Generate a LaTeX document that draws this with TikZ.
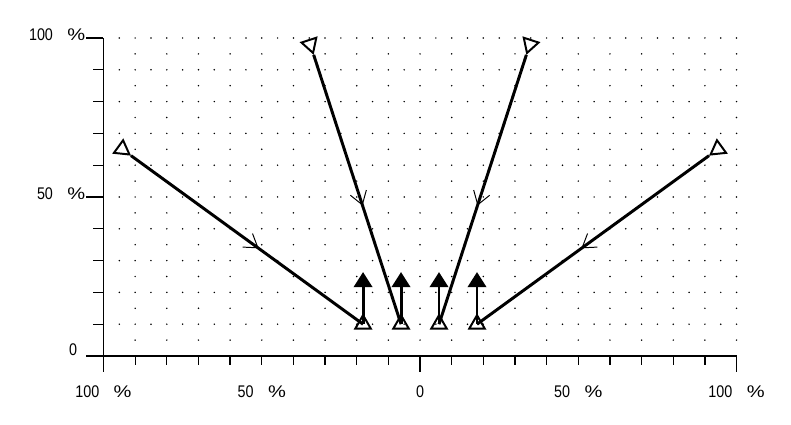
\documentclass[tikz,border=0pt]{standalone}
\usepackage{fontspec}
\setmainfont{Liberation Sans}[FakeStretch=0.85]
\usetikzlibrary{arrows.meta,shapes.geometric,decorations.markings}

\newcommand{\pctlabel}[1]{#1\hspace{0.36cm}\scalebox{1.4}[1]{\%}}

\tikzset{
  axis/.style={line width=1.2pt},
  tick/.style={line width=0.9pt},
  gdot/.style={fill=black},
  trace/.style={line width=2.1pt, postaction={decorate},
    decoration={markings, mark=at position #1 with {\arrow{Straight Barb[length=0.32cm, width=0.42cm, line width=0.7pt]}}}},
  marker/.style={draw, line width=1.4pt, regular polygon, regular polygon sides=3,
    minimum size=0.45cm, inner sep=0pt},
  lift/.style={line width=2.1pt, -{Triangle[length=0.38cm, width=0.46cm]}},
  axlabel/.style={font=\fontsize{12}{14}\selectfont, inner sep=0pt},
}

\begin{document}
\begin{tikzpicture}[x=0.079125cm, y=0.0795cm]
  \useasboundingbox (-132.7,-21.7) rectangle (117.2,111.95);

  % dotted grid
  \foreach \gy in {10,20,...,100}
    \foreach \gx in {-95,-90,...,100}
      \fill[gdot] (\gx,\gy) circle[radius=0.021cm];
  \foreach \gx in {-90,-80,...,100}
    \foreach \gy in {5,15,...,95}
      \fill[gdot] (\gx,\gy) circle[radius=0.021cm];

  % axes and ticks
  \draw[axis] (-100,100) -- (-100,0) -- ++(0,-0.4cm);
  \draw[axis] (-100,0) ++(-0.43cm,0) -- (100,0);
  \foreach \ty in {10,20,...,90}
    \draw[tick] (-100,\ty) -- ++(-0.25cm,0);
  \foreach \ty in {50,100}
    \draw[tick] (-100,\ty) -- ++(-0.43cm,0);
  \foreach \tx in {-90,-80,...,90}
    \draw[tick] (\tx,0) -- ++(0,-0.225cm);
  \foreach \tx in {0,100}
    \draw[tick] (\tx,0) -- ++(0,-0.4cm);

  % axis labels
  \node[axlabel, anchor=base east, xshift=-0.45cm, yshift=-0.06cm] (y100) at (-100,100) {\pctlabel{100}};
  \node[axlabel, anchor=base east, xshift=-0.45cm, yshift=-0.06cm] (y50) at (-100,50) {\pctlabel{50}};
  \node[axlabel, anchor=base east, xshift=-0.65cm] (y0) at (-100,0) {0};
  \foreach \tx/\tv/\tn in {-100/100/xl100, -50/50/xl50, 50/50/xr50, 100/100/xr100}
    \node[axlabel, anchor=base, yshift=-1.03cm] (\tn) at (\tx,0) {\pctlabel{\tv}};
  \node[axlabel, anchor=base, yshift=-1.03cm] (x0) at (0,0) {0};

  % end points
  \coordinate (tl) at (-91.3,63);
  \coordinate (tcl) at (-33.6,94.7);
  \coordinate (tcr) at (33.6,94.7);
  \coordinate (tr) at (91.3,63);
  \coordinate (bl) at (-18,10);
  \coordinate (bcl) at (-6,10);
  \coordinate (bcr) at (6,10);
  \coordinate (br) at (18,10);
  \coordinate (ubl) at (-18,26.4);
  \coordinate (ubcl) at (-6,26.4);
  \coordinate (ubcr) at (6,26.4);
  \coordinate (ubr) at (18,26.4);

  % traces
  \draw[trace=0.55] (tl) -- (bl);
  \draw[trace=0.56] (tcl) -- (bcl);
  \draw[trace=0.56] (tcr) -- (bcr);
  \draw[trace=0.55] (tr) -- (br);

  % start markers
  \path (tl) -- node[marker, pos=0, sloped, allow upside down, shape border rotate=-90, anchor=corner 1] (mtl) {} (bl);
  \path (tcl) -- node[marker, pos=0, sloped, allow upside down, shape border rotate=-90, anchor=corner 1] (mtcl) {} (bcl);
  \path (tcr) -- node[marker, pos=0, sloped, allow upside down, shape border rotate=-90, anchor=corner 1] (mtcr) {} (bcr);
  \path (tr) -- node[marker, pos=0, sloped, allow upside down, shape border rotate=-90, anchor=corner 1] (mtr) {} (br);

  % lift arrows and end markers
  \draw[lift] (bl) -- (ubl);
  \draw[lift] (bcl) -- (ubcl);
  \draw[lift] (bcr) -- (ubcr);
  \draw[lift] (br) -- (ubr);
  \node[marker] (mbl) at (bl) {};
  \node[marker] (mbcl) at (bcl) {};
  \node[marker] (mbcr) at (bcr) {};
  \node[marker] (mbr) at (br) {};
\end{tikzpicture}
\end{document}
